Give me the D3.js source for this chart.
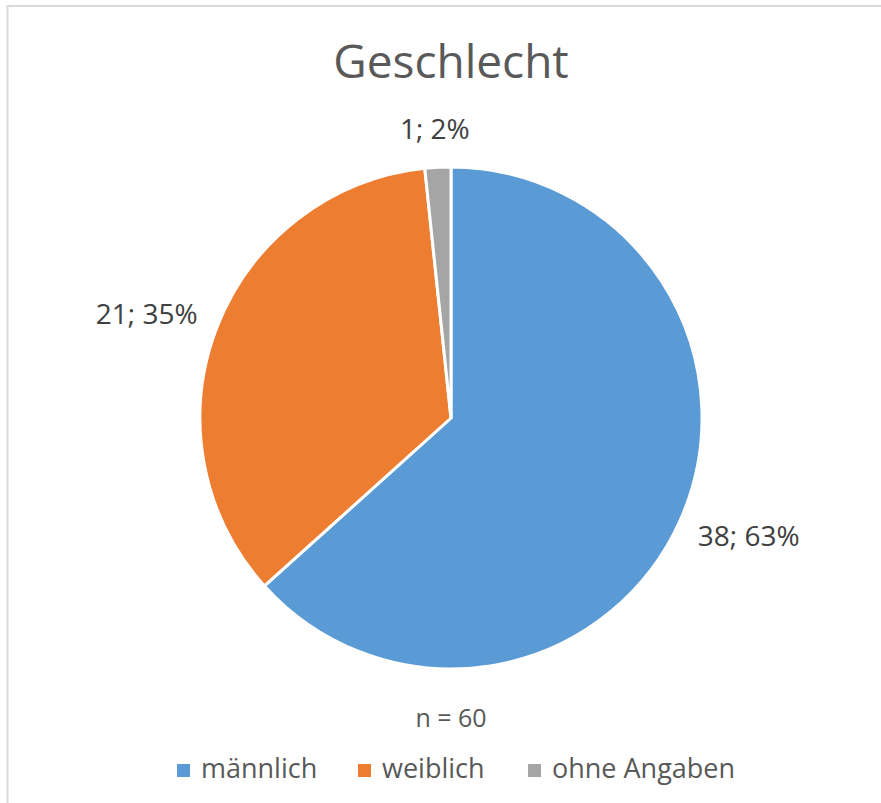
<!DOCTYPE html>
<html lang="de">
  <head>
    <meta charset="utf-8">
    <title>Geschlecht</title>
    <script src="https://d3js.org/d3.v7.min.js"></script>
    <style>
      body { margin: 0; background: #fff; }
      text { font-family: 'Open Sans', sans-serif; }
    </style>
  </head>
  <body>
    <script>
      // data
      var categories = ["männlich", "weiblich", "ohne Angaben"];
      var counts = [38, 21, 1];
      var colors = ["#5B9BD5", "#ED7D31", "#A5A5A5"];
      var title = "Geschlecht";
      var note = "n = 60";

      var width = 881,
          height = 803,
          cx = 451, cy = 418,
          radius = 251,
          labelPad = 24,
          labelSize = 28;

      var svg = d3.select("body").append("svg")
        .attr("width", width)
        .attr("height", height);

      // chart area border (only top and left edges are in view)
      svg.append("rect")
        .attr("x", 7.5).attr("y", 6)
        .attr("width", 900).attr("height", 900)
        .attr("fill", "none")
        .attr("stroke", "#d9d9d9")
        .attr("stroke-width", 2);

      svg.append("text")
        .attr("x", cx).attr("y", 78)
        .attr("text-anchor", "middle")
        .style("font-size", "46px")
        .style("fill", "#595959")
        .text(title);

      var total = d3.sum(counts);
      var rows = categories.map(function(c, i) {
        return { name: c, value: counts[i], color: colors[i] };
      });

      var pie = d3.pie().sort(null).value(function(d) { return d.value; });
      var arc = d3.arc().innerRadius(0).outerRadius(radius);

      var g = svg.append("g").attr("transform", "translate(" + cx + "," + cy + ")");

      g.selectAll("path")
        .data(pie(rows))
        .enter().append("path")
        .attr("d", arc)
        .style("fill", function(d) { return d.data.color; })
        .style("stroke", "white")
        .style("stroke-width", 3)
        .style("stroke-linejoin", "round");

      // labels placed just outside the slice ("outside end")
      g.selectAll("text.lbl")
        .data(pie(rows))
        .enter().append("text")
        .attr("class", "lbl")
        .attr("text-anchor", "middle")
        .style("font-size", labelSize + "px")
        .style("fill", "#404040")
        .text(function(d) {
          return d.data.value + "; " + Math.round(d.data.value / total * 100) + "%";
        })
        .each(function(d) {
          var a = (d.startAngle + d.endAngle) / 2,
              s = Math.sin(a), c = -Math.cos(a),
              w = this.getComputedTextLength(),
              h = labelSize,
              r = radius + labelPad,
              x = r * s + s * w / 2,
              y = r * c + c * h / 2;
          d3.select(this)
            .attr("x", x)
            .attr("y", y + labelSize * 0.357);
        });

      svg.append("text")
        .attr("x", cx).attr("y", 727)
        .attr("text-anchor", "middle")
        .style("font-size", "25px")
        .style("fill", "#595959")
        .text(note);

      // legend
      var legendX = [177, 358, 528];
      var legend = svg.selectAll("g.legend")
        .data(rows)
        .enter().append("g")
        .attr("class", "legend")
        .attr("transform", function(d, i) { return "translate(" + legendX[i] + ",0)"; });

      legend.append("rect")
        .attr("x", 0).attr("y", 764)
        .attr("width", 13).attr("height", 13)
        .style("fill", function(d) { return d.color; });

      legend.append("text")
        .attr("x", 24).attr("y", 778)
        .style("font-size", "27px")
        .style("fill", "#595959")
        .text(function(d) { return d.name; });
    </script>
  </body>
</html>
